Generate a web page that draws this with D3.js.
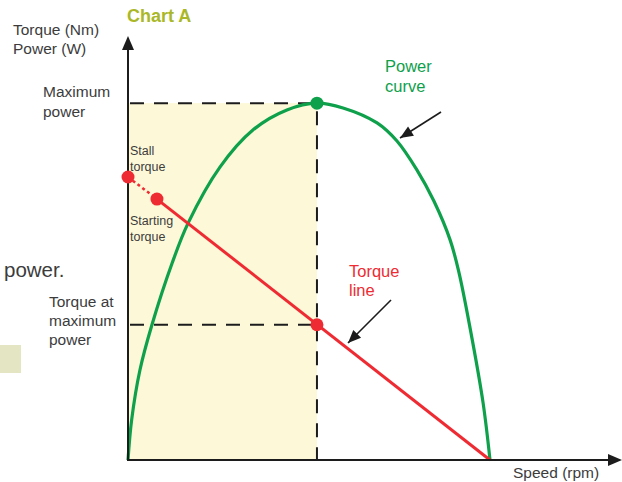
<!DOCTYPE html>
<html>
<head>
    <title>Chart A</title>
    <script src="https://d3js.org/d3.v7.min.js"></script>
    <style>
        body { margin: 0; background: #fff; }
        text { font-family: "Liberation Sans", Arial, sans-serif; }
    </style>
</head>
<body>
    <script>
        // Values (speed 0..100 = no load speed, torque 0..100 = stall torque)
        const powerSpeed = [0, 1.0, 3.3, 6.6, 12.2, 16.6, 25.4, 34.5, 43.9, 52.2, 59.4, 68.8, 74.3, 79.8, 84.5, 89.0, 91.4, 94.5, 98.1, 100];
        const powerValue = [0, 14.1, 31.8, 47.7, 69.6, 83.7, 103.5, 116.6, 123.7, 126.1, 124.4, 119.1, 112.7, 102.5, 91.5, 77.7, 66.4, 46.6, 20.1, 0];

        const torqueSpeed = [0, 8.0, 100];
        const torqueValue = [100, 92.2, 0];

        const maxPowerSpeed = 52.2;
        const maxPower = 126.1;
        const torqueAtMaxPower = 47.8;

        const width = 622, height = 482;

        const svg = d3.select("body").append("svg")
            .attr("width", width)
            .attr("height", height);

        const x = d3.scaleLinear().domain([0, 100]).range([128, 490]);
        const y = d3.scaleLinear().domain([0, 100]).range([460, 177]);

        const ink = "#1c1c1c", grey = "#3c3c3c";
        const green = "#0ea04b", red = "#ee2b33";

        // stray bits from the page around the chart
        svg.append("text").attr("x", 4).attr("y", 277)
            .attr("font-size", 20.5).attr("fill", grey).text("power.");
        svg.append("rect").attr("x", 0).attr("y", 345).attr("width", 21).attr("height", 28)
            .attr("fill", "#e4e5c2");

        // shaded area under max power
        svg.append("rect")
            .attr("x", x(0)).attr("y", y(maxPower))
            .attr("width", x(maxPowerSpeed) - x(0))
            .attr("height", y(0) - y(maxPower))
            .attr("fill", "#fdf8d8");

        // dashed guides
        const dash = "14,10";
        svg.append("line")
            .attr("x1", x(0) + 2).attr("x2", x(maxPowerSpeed))
            .attr("y1", y(maxPower)).attr("y2", y(maxPower))
            .attr("stroke", ink).attr("stroke-width", 2).attr("stroke-dasharray", dash);
        svg.append("line")
            .attr("x1", x(0) + 2).attr("x2", x(maxPowerSpeed))
            .attr("y1", y(torqueAtMaxPower)).attr("y2", y(torqueAtMaxPower))
            .attr("stroke", ink).attr("stroke-width", 2).attr("stroke-dasharray", dash);
        svg.append("line")
            .attr("x1", x(maxPowerSpeed)).attr("x2", x(maxPowerSpeed))
            .attr("y1", y(maxPower) + 8).attr("y2", y(0))
            .attr("stroke", ink).attr("stroke-width", 2).attr("stroke-dasharray", dash);

        // power curve
        const powerPts = powerSpeed.map((s, i) => [x(s), y(powerValue[i])]);
        svg.append("path")
            .attr("d", d3.line().curve(d3.curveCatmullRom.alpha(0.5))(powerPts))
            .attr("fill", "none").attr("stroke", green).attr("stroke-width", 3.2);

        // torque line: dotted from stall to starting, solid after
        svg.append("line")
            .attr("x1", x(torqueSpeed[0])).attr("y1", y(torqueValue[0]))
            .attr("x2", x(torqueSpeed[1])).attr("y2", y(torqueValue[1]))
            .attr("stroke", red).attr("stroke-width", 2.5).attr("stroke-dasharray", "3,3");
        svg.append("line")
            .attr("x1", x(torqueSpeed[1])).attr("y1", y(torqueValue[1]))
            .attr("x2", x(torqueSpeed[2])).attr("y2", y(torqueValue[2]))
            .attr("stroke", red).attr("stroke-width", 3);

        // axes with arrow heads
        svg.append("line").attr("x1", x(0)).attr("y1", y(0) + 1).attr("x2", x(0)).attr("y2", 48)
            .attr("stroke", ink).attr("stroke-width", 2);
        svg.append("line").attr("x1", x(0) - 1).attr("y1", y(0)).attr("x2", 610).attr("y2", y(0))
            .attr("stroke", ink).attr("stroke-width", 2);
        svg.append("path").attr("d", `M${x(0)},36 L${x(0) - 6},50 L${x(0) + 6},50 Z`).attr("fill", ink);
        svg.append("path").attr("d", `M622,${y(0)} L608,${y(0) - 6} L608,${y(0) + 6} Z`).attr("fill", ink);

        // points
        svg.append("circle").attr("cx", x(maxPowerSpeed)).attr("cy", y(maxPower)).attr("r", 6.5).attr("fill", green);
        svg.append("circle").attr("cx", x(torqueSpeed[0])).attr("cy", y(torqueValue[0])).attr("r", 6.5).attr("fill", red);
        svg.append("circle").attr("cx", x(torqueSpeed[1])).attr("cy", y(torqueValue[1])).attr("r", 6.5).attr("fill", red);
        svg.append("circle").attr("cx", x(maxPowerSpeed)).attr("cy", y(torqueAtMaxPower)).attr("r", 6.5).attr("fill", red);

        // callout arrows
        function arrow(x1, y1, x2, y2) {
            svg.append("line").attr("x1", x1).attr("y1", y1).attr("x2", x2).attr("y2", y2)
                .attr("stroke", ink).attr("stroke-width", 1.6);
            const a = Math.atan2(y2 - y1, x2 - x1), L = 13, W = 5.5;
            const bx = x2 - L * Math.cos(a), by = y2 - L * Math.sin(a);
            svg.append("path")
                .attr("d", `M${x2},${y2} L${bx - W * Math.sin(a)},${by + W * Math.cos(a)} L${bx + W * Math.sin(a)},${by - W * Math.cos(a)} Z`)
                .attr("fill", ink);
        }
        arrow(441, 112, 400, 138);
        arrow(391, 300, 348, 343);

        // labels
        function label(lines, x0, y0, dy, size, color, weight) {
            const t = svg.append("text").attr("x", x0).attr("y", y0)
                .attr("font-size", size).attr("fill", color).attr("font-weight", weight || "normal");
            lines.forEach((s, i) => t.append("tspan").attr("x", x0).attr("y", y0 + i * dy).text(s));
        }
        label(["Chart A"], 127, 22, 0, 18, "#aab827", "bold");
        label(["Torque (Nm)", "Power (W)"], 13, 35, 19, 15.5, grey);
        label(["Maximum", "power"], 43, 97, 20, 15.5, grey);
        label(["Stall", "torque"], 130, 155, 15.5, 12.5, grey);
        label(["Starting", "torque"], 130, 225, 15.5, 12.5, grey);
        label(["Torque at", "maximum", "power"], 49, 307, 19, 15.5, grey);
        label(["Power", "curve"], 385, 72, 19.5, 16.5, green);
        label(["Torque", "line"], 349, 277, 19, 16.5, red);
        label(["Speed (rpm)"], 513, 478, 0, 15.5, grey);
    </script>
</body>
</html>
